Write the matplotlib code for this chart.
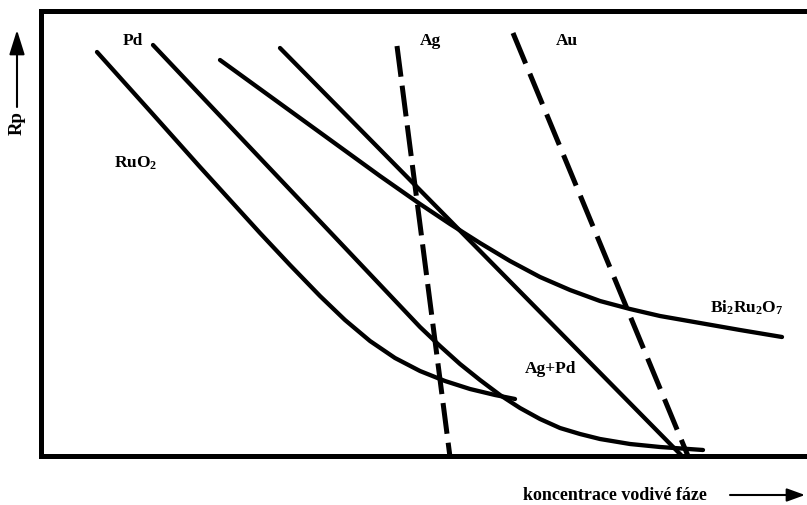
import matplotlib
matplotlib.use('Agg')
import matplotlib.pyplot as plt
from matplotlib.patches import FancyArrowPatch, ArrowStyle

plt.rcParams['font.family'] = ['Liberation Serif', 'DejaVu Serif']
plt.rcParams['font.weight'] = 'bold'
plt.rcParams['mathtext.fontset'] = 'custom'
plt.rcParams['mathtext.rm'] = 'Liberation Serif:bold'
plt.rcParams['mathtext.bf'] = 'Liberation Serif:bold'
plt.rcParams['mathtext.it'] = 'Liberation Serif:bold'
plt.rcParams['mathtext.default'] = 'rm'
plt.rcParams['lines.scale_dashes'] = False

# schematic only: x ~ conductive phase content, y ~ Rp (arbitrary units)
ruo2_x = [56, 109, 159, 189, 219, 249, 279, 304, 329, 354, 379, 404, 429, 454, 474]
ruo2_y = [404, 345, 289, 256, 223, 191, 160, 136, 115, 98, 85, 75, 67, 61, 57]

pd_x = [112, 379, 399, 419, 439, 459, 479, 499, 519, 539, 559, 589, 619, 662]
pd_y = [411, 129, 110, 92, 76, 61, 48, 37, 28, 22, 17, 12, 9, 6]

bi_x = [179, 259, 339, 379, 409, 439, 469, 499, 529, 559, 589, 619, 659, 699, 741]
bi_y = [396, 338, 280, 252, 232, 213, 195, 179, 166, 155, 147, 140, 133, 126, 119]

agpd_x = [239, 640]
agpd_y = [408, 1]

ag_x = [356, 409]
ag_y = [410, -1]

au_x = [472, 647]
au_y = [423, 0]

# label text, anchor x, baseline y
labels = [
    ('Pd', 92, 411),
    ('RuO$_2$', 95, 288),
    ('Ag', 389, 411),
    ('Au', 526, 411),
    ('Bi$_2$Ru$_2$O$_7$', 706, 143),
    ('Ag+Pd', 510, 83),
]

fig = plt.figure(figsize=(8.07, 5.05), dpi=100)
ax = fig.add_axes([41/807, 49/505, 766/807, 445/505])
ax.set_xlim(0, 766)
ax.set_ylim(0, 445)
ax.set_xticks([])
ax.set_yticks([])
for side in ['left', 'bottom', 'top']:
    ax.spines[side].set_linewidth(3.6)
ax.spines['right'].set_visible(False)

solid = dict(color='black', lw=3.1, solid_capstyle='round', solid_joinstyle='round')
ax.plot(ruo2_x, ruo2_y, **solid)
ax.plot(pd_x, pd_y, **solid)
ax.plot(bi_x, bi_y, **solid)
ax.plot(agpd_x, agpd_y, **solid)

ax.plot(ag_x, ag_y, color='black', lw=3.6, linestyle=(0, (22.3, 6.5)), dash_capstyle='butt')
ax.plot(au_x, au_y, color='black', lw=3.6, linestyle=(0, (23.8, 7.9)), dash_capstyle='butt')

for text, x, y in labels:
    ax.text(x, y, text, ha='center', va='baseline', fontsize=12.5, fontweight='bold')

# axis captions with arrows
fig.text(17/807, 382/505, 'Rp', rotation=90, ha='center', va='center',
         fontsize=13.5, fontweight='bold')
fig.text(615/807, 5/505, 'koncentrace vodivé fáze', ha='center', va='baseline',
         fontsize=13, fontweight='bold')

up = FancyArrowPatch((17/807, 398/505), (17/807, 475/505), transform=fig.transFigure,
                     arrowstyle=ArrowStyle('-|>', head_length=15, head_width=4.7),
                     mutation_scale=1, lw=1.5, color='black', shrinkA=0, shrinkB=0)
right = FancyArrowPatch((730/807, 10/505), (805/807, 10/505), transform=fig.transFigure,
                        arrowstyle=ArrowStyle('-|>', head_length=11, head_width=4),
                        mutation_scale=1, lw=1.5, color='black', shrinkA=0, shrinkB=0)
fig.add_artist(up)
fig.add_artist(right)

fig.savefig('out.png', dpi=100)
